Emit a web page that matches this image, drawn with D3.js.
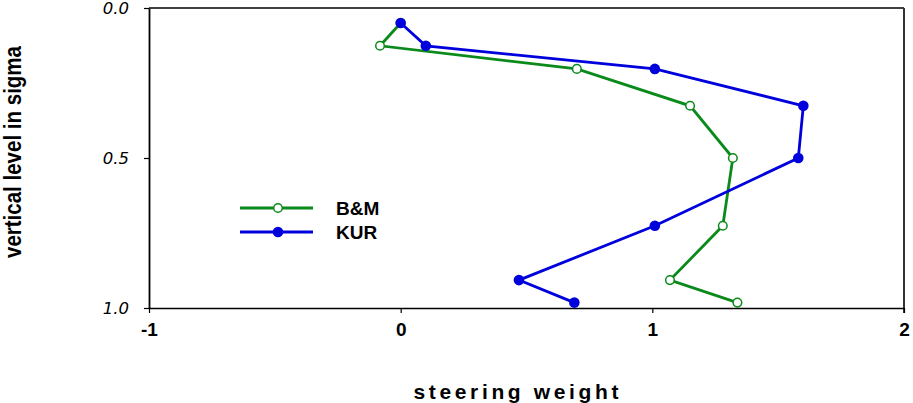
<!DOCTYPE html>
<html><head><meta charset="utf-8">
<script src="https://cdn.jsdelivr.net/npm/d3@7"></script>
<style>body{margin:0;background:#fff}svg{display:block}</style>
</head><body>
<svg id="c" width="913" height="403"></svg>
<script>
const sigma = [0.05, 0.126, 0.203, 0.326, 0.5, 0.726, 0.907, 0.982];
const bm    = [0.0, -0.082, 0.70, 1.15, 1.32, 1.28, 1.07, 1.338];
const kur   = [0.0, 0.10, 1.01, 1.60, 1.58, 1.01, 0.47, 0.69];
const seriesNames = ["B&M", "KUR"];
const xTicks = [-1, 0, 1, 2];
const yTicks = [0.0, 0.5, 1.0];
const yTickLabels = ["0.0", "0.5", "1.0"];

const svg = d3.select("#c");
const L = 149, R = 904, T = 8, B = 308;
const x = d3.scaleLinear().domain([-1, 2]).range([L, R]);
const y = d3.scaleLinear().domain([0, 1]).range([T, B]);

// frame
svg.append("line").attr("x1", L).attr("x2", R).attr("y1", T).attr("y2", T).attr("stroke", "#000").attr("stroke-width", 1.5);
svg.append("line").attr("x1", R).attr("x2", R).attr("y1", T).attr("y2", B + 5).attr("stroke", "#333").attr("stroke-width", 2);

const xa = svg.append("g").attr("transform", `translate(0,${B})`)
  .call(d3.axisBottom(x).tickValues(xTicks).tickSize(5).tickSizeOuter(0).tickFormat(d => String(d)));
xa.select(".domain").attr("stroke-width", 1.5);
xa.selectAll(".tick line").attr("stroke-width", 1.2);
xa.selectAll("text").attr("font-family", "Liberation Sans, Arial, sans-serif").attr("font-weight", "bold")
  .attr("font-size", 19).attr("dy", "0.95em").attr("y", 10);

const ya = svg.append("g").attr("transform", `translate(${L},0)`)
  .call(d3.axisLeft(y).tickValues(yTicks).tickSize(5).tickSizeOuter(0).tickFormat((d, i) => yTickLabels[i]));
ya.select(".domain").attr("stroke-width", 1.8);
ya.selectAll(".tick line").attr("stroke-width", 1.2);
ya.selectAll("text").attr("font-family", "DejaVu Sans, sans-serif").attr("font-style", "italic")
  .attr("font-size", 16.5).attr("x", -20);

// titles
svg.append("text").attr("x", 516).attr("y", 399).attr("text-anchor", "middle")
  .attr("font-family", "Liberation Sans, Arial, sans-serif").attr("font-weight", "bold").attr("font-size", 21)
  .attr("textLength", 205).attr("lengthAdjust", "spacing").text("steering weight");
svg.append("text").attr("transform", "translate(21,152) rotate(-90)").attr("text-anchor", "middle")
  .attr("font-family", "Liberation Sans Narrow, Liberation Sans, Arial, sans-serif").attr("font-weight", "bold").attr("font-size", 23)
  .attr("textLength", 212).attr("lengthAdjust", "spacingAndGlyphs").text("vertical level in sigma");

const green = "#0a8a1a", blue = "#0000dd";
const line = d3.line().x(d => x(d[0])).y(d => y(d[1]));
const bmData = bm.map((v, i) => [v, sigma[i]]);
const kurData = kur.map((v, i) => [v, sigma[i]]);

svg.append("path").datum(bmData).attr("d", line).attr("fill", "none").attr("stroke", green).attr("stroke-width", 2.8);
svg.selectAll(".bm").data(bmData).enter().append("circle")
  .attr("cx", d => x(d[0])).attr("cy", d => y(d[1])).attr("r", 4.3)
  .attr("fill", "#fff").attr("stroke", green).attr("stroke-width", 1.5);

svg.append("path").datum(kurData).attr("d", line).attr("fill", "none").attr("stroke", blue).attr("stroke-width", 2.8);
svg.selectAll(".kur").data(kurData).enter().append("circle")
  .attr("cx", d => x(d[0])).attr("cy", d => y(d[1])).attr("r", 5.3)
  .attr("fill", blue);

// legend
const lg = [{name: seriesNames[0], c: green, open: true, y: 208}, {name: seriesNames[1], c: blue, open: false, y: 232}];
lg.forEach(d => {
  svg.append("line").attr("x1", 240).attr("x2", 313).attr("y1", d.y).attr("y2", d.y).attr("stroke", d.c).attr("stroke-width", 2.8);
  svg.append("circle").attr("cx", 278).attr("cy", d.y).attr("r", d.open ? 4.3 : 5.3)
    .attr("fill", d.open ? "#fff" : d.c).attr("stroke", d.open ? d.c : "none").attr("stroke-width", 1.5);
  svg.append("text").attr("x", 336).attr("y", d.y + 7).attr("font-family", "Liberation Sans, Arial, sans-serif")
    .attr("font-weight", "bold").attr("font-size", 19).text(d.name);
});
</script>
</body></html>
